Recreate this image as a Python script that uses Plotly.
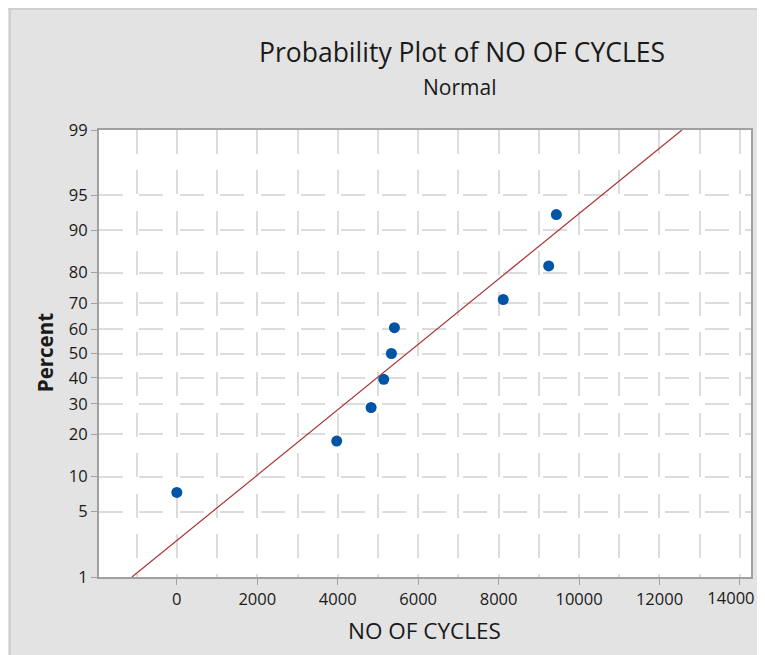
import plotly.graph_objects as go
from statistics import NormalDist, mean, stdev

# ---- data ----
cycles = [0, 3975, 4830, 5145, 5335, 5410, 8115, 9245, 9435]
percent = [7.4, 18.1, 28.7, 39.4, 50.0, 60.6, 71.3, 81.9, 92.6]
y_tick_pct = [1, 5, 10, 20, 30, 40, 50, 60, 70, 80, 90, 95, 99]
x_ticks = [0, 2000, 4000, 6000, 8000, 10000, 12000, 14000]
x_range = [-1935, 14275]

nd = NormalDist()
def z(p):
    return nd.inv_cdf(p / 100.0)

# fitted normal line from data
mu = mean(cycles)
sd = stdev(cycles)
line_pct = [1, 99]
line_x = [mu + sd * z(p) for p in line_pct]
line_y = [z(p) for p in line_pct]

FONT = "Open Sans"
GRID = "#dcdcdc"
DASH = "24px,16.4px"
TXT = "#1a1a1a"

fig = go.Figure()
fig.add_trace(go.Scatter(x=line_x, y=line_y, mode="lines", xaxis="x2",
                         line=dict(color="#a83232", width=1.2),
                         hoverinfo="skip", showlegend=False))
fig.add_trace(go.Scatter(x=cycles, y=[z(p) for p in percent], mode="markers",
                         marker=dict(color="#0054a6", size=11, symbol="circle"),
                         showlegend=False))

# page has an 8px body margin; figure coordinates are page coords minus 8
OFF = 8
L, R, T, B = 99 - OFF, 754 - OFF, 130 - OFF, 577 - OFF
W, H = 765 - 2 * OFF, 655 - OFF
def px_x(p):
    return (p - OFF - L) / (R - L)
def px_y(p):
    return (B - (p - OFF)) / (B - T)

last_tick = x_ticks[-1]

fig.update_layout(
    width=W, height=H,
    margin=dict(l=L, r=W - R, t=T, b=H - B),
    paper_bgcolor="#e3e3e3",
    plot_bgcolor="white",
    font=dict(family=FONT, color=TXT),
    xaxis=dict(
        range=x_range,
        tickvals=x_ticks,
        ticktext=[str(v) if v != last_tick else "" for v in x_ticks],
        ticks="outside", ticklen=6, tickcolor="#a0a0a0", tickwidth=1,
        tickfont=dict(size=16.5, family=FONT, color=TXT),
        showgrid=True, gridcolor=GRID, gridwidth=2, griddash=DASH,
        minor=dict(dtick=1000, tick0=0, showgrid=True, gridcolor=GRID,
                   gridwidth=2, griddash=DASH, ticks=""),
        showline=True, linecolor="#a0a0a0", linewidth=2, mirror=True,
        zeroline=False,
    ),
    # overlay axis only used to place the last (edge-clipped) tick label
    xaxis2=dict(
        overlaying="x", matches="x", anchor="y", side="bottom",
        range=x_range,
        tickvals=[last_tick], ticktext=[str(last_tick)],
        ticks="outside", ticklen=6, tickcolor="rgba(0,0,0,0)",
        tickfont=dict(size=16.5, family=FONT, color=TXT),
        ticklabelshift=-9, ticklabeloverflow="allow",
        showgrid=False, showline=False, zeroline=False,
    ),
    yaxis=dict(
        range=[z(1), z(99)],
        tickvals=[z(p) for p in y_tick_pct],
        ticktext=[str(p) for p in y_tick_pct],
        ticks="outside", ticklen=6, tickcolor="#a0a0a0", tickwidth=1,
        tickfont=dict(size=16.5, family=FONT, color=TXT),
        showgrid=True, gridcolor=GRID, gridwidth=2, griddash=DASH,
        showline=True, linecolor="#a0a0a0", linewidth=2, mirror=True,
        zeroline=False,
    ),
    shapes=[
        dict(type="line", xref="paper", yref="paper", x0=px_x(9.5), x1=px_x(9.5),
             y0=px_y(8), y1=px_y(700), line=dict(color="#cfcfcf", width=2)),
        dict(type="line", xref="paper", yref="paper", x0=px_x(8), x1=px_x(800),
             y0=px_y(9), y1=px_y(9), line=dict(color="#cfcfcf", width=2)),
    ],
    annotations=[
        dict(text="Probability Plot of NO OF CYCLES", xref="paper", yref="paper",
             x=px_x(464), y=px_y(52), showarrow=False, xanchor="center", yanchor="middle",
             font=dict(size=26.5, family=FONT, color=TXT)),
        dict(text="Normal", xref="paper", yref="paper",
             x=px_x(461), y=px_y(87), showarrow=False, xanchor="center", yanchor="middle",
             font=dict(size=21, family=FONT, color=TXT)),
        dict(text="NO OF CYCLES", xref="paper", yref="paper",
             x=px_x(426), y=px_y(630), showarrow=False, xanchor="center", yanchor="middle",
             font=dict(size=22.5, family=FONT, color=TXT)),
        dict(text="<b>Percent</b>", xref="paper", yref="paper", textangle=-90,
             x=px_x(45), y=px_y(353), showarrow=False, xanchor="center", yanchor="middle",
             font=dict(size=20.5, family=FONT, color=TXT)),
    ],
)

fig.write_html("out.html")
